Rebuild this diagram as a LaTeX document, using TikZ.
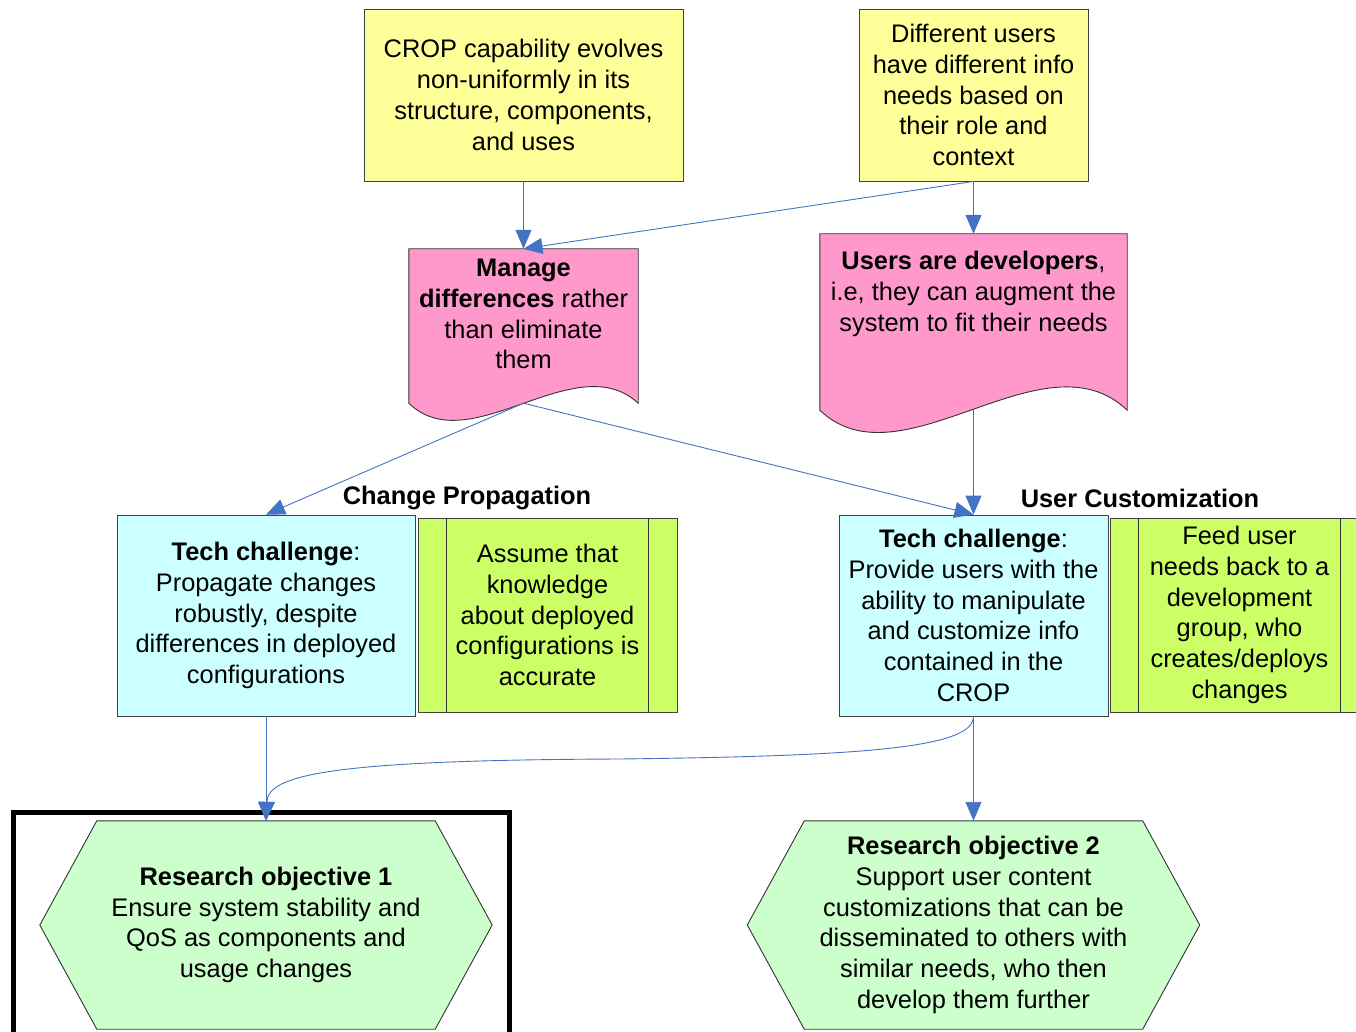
\documentclass[tikz,border=0pt]{standalone}
\usepackage{fontspec}
\setmainfont{Liberation Sans}
\usetikzlibrary{arrows.meta, backgrounds}

\definecolor{noteyellow}{RGB}{255,255,153}
\definecolor{docpink}{RGB}{255,153,204}
\definecolor{techcyan}{RGB}{204,255,255}
\definecolor{assumelime}{RGB}{204,255,102}
\definecolor{goalgreen}{RGB}{204,255,204}
\definecolor{linkblue}{RGB}{68,114,196}

\begin{document}
\begin{tikzpicture}[x = 1pt, y = -1pt, > = {Triangle[length = 19pt, width = 16pt]},
	font = \fontsize{25.4}{30.8}\selectfont,
	box/.style = {draw = black!75, line width = 0.9pt, align = center, inner sep = 0pt},
	frame/.style = {inner sep = 0pt},
	outline/.style = {draw = black!80, line width = 0.9pt},
	flow/.style = {->, draw = linkblue, line width = 0.9pt}]

	\useasboundingbox (0, 0) rectangle (1356, 1032);

	% Starting points

	\node [box, fill = noteyellow, minimum width = 319pt, minimum height = 172pt] (crop) at (523.5, 95) {CROP capability evolves\\non-uniformly in its\\structure, components,\\and uses};
	\node [box, fill = noteyellow, minimum width = 229pt, minimum height = 172pt] (users) at (973.5, 95) {Different users\\have different info\\needs based on\\their role and\\context};

	% Documents

	\node [frame, minimum width = 229pt, minimum height = 154pt] (manage) at (523.5, 326) {};
	\node [align = center] (managetext) at (523.5, 314) {\textbf{Manage}\\\textbf{differences} rather\\than eliminate\\them};
	\node [frame, minimum width = 307pt, minimum height = 176pt] (devs) at (973.5, 322) {};
	\node [align = center] (devstext) at (973.5, 294) {\textbf{Users are developers},\\i.e, they can augment the\\system to fit their needs};

	% Tech challenges and assumptions

	\node [font = \fontsize{25.4}{30.8}\selectfont\bfseries] (proplabel) at (467, 498) {Change Propagation};
	\node [font = \fontsize{25.4}{30.8}\selectfont\bfseries] (custlabel) at (1140, 498) {User Customization};

	\node [box, fill = techcyan, minimum width = 298pt, minimum height = 201pt] (techprop) at (266, 615.5) {\textbf{Tech challenge}:\\Propagate changes\\robustly, despite\\differences in deployed\\configurations};
	\node [box, fill = techcyan, minimum width = 269pt, minimum height = 201pt] (techcust) at (973.5, 615.5) {\textbf{Tech challenge}:\\Provide users with the\\ability to manipulate\\and customize info\\contained in the\\CROP};

	\node [box, fill = assumelime, minimum width = 259pt, minimum height = 194pt] (assume) at (547.5, 615) {Assume that\\knowledge\\about deployed\\configurations is\\accurate};
	\node [box, fill = assumelime, minimum width = 259pt, minimum height = 194pt] (feed) at (1239.5, 615) {Feed user\\needs back to a\\development\\group, who\\creates/deploys\\changes};

	\foreach \n in {assume, feed} {
		\draw [outline] ([xshift = 29pt] \n.north west) -- ([xshift = 29pt] \n.south west);
		\draw [outline] ([xshift = -29pt] \n.north east) -- ([xshift = -29pt] \n.south east);
	}

	% Research objectives

	\node [align = center, minimum width = 452pt, minimum height = 208pt] (obj1) at (266, 925) {\textbf{Research objective 1}\\Ensure system stability and\\QoS as components and\\usage changes};
	\node [align = center, minimum width = 452pt, minimum height = 208pt] (obj2) at (973.5, 925) {\textbf{Research objective 2}\\Support user content\\customizations that can be\\disseminated to others with\\similar needs, who then\\develop them further};

	\begin{scope}[on background layer]
		\draw [outline, fill = docpink] (manage.north west) -- (manage.north east) -- (manage.south east)
			.. controls +(-63, -58) and +(61, 59) .. (manage.south west) -- cycle;
		\draw [outline, fill = docpink] (devs.north west) -- (devs.north east) -- (devs.south east)
			.. controls +(-84, -80) and +(82, 78) .. (devs.south west) -- cycle;
		\foreach \n in {obj1, obj2} {
			\draw [outline, fill = goalgreen] (\n.west) -- ([xshift = 57pt] \n.north west) -- ([xshift = -57pt] \n.north east)
				-- (\n.east) -- ([xshift = -57pt] \n.south east) -- ([xshift = 57pt] \n.south west) -- cycle;
		}
		\draw [line width = 5pt] (13.5, 812) rectangle (509.5, 1060);
	\end{scope}

	% Connectors

	\coordinate (bend) at (620, 759);

	\draw [flow] (crop) -- (manage);
	\draw [flow] (users.south) -- (manage.north);
	\draw [flow] (users) -- (devs);
	\draw [flow] (manage.south) -- (techprop.north);
	\draw [flow] (manage.south) -- (techcust.north);
	\draw [flow] (devs) -- (techcust);
	\draw [flow] (techprop) -- (obj1);
	\draw [flow] (techcust) -- (obj2);
	\draw [flow] (techcust.south) .. controls +(0, 32) and +(240, -3) .. (bend)
		.. controls +(-290, 1) and +(2, -46) .. (obj1.north);

\end{tikzpicture}
\end{document}
